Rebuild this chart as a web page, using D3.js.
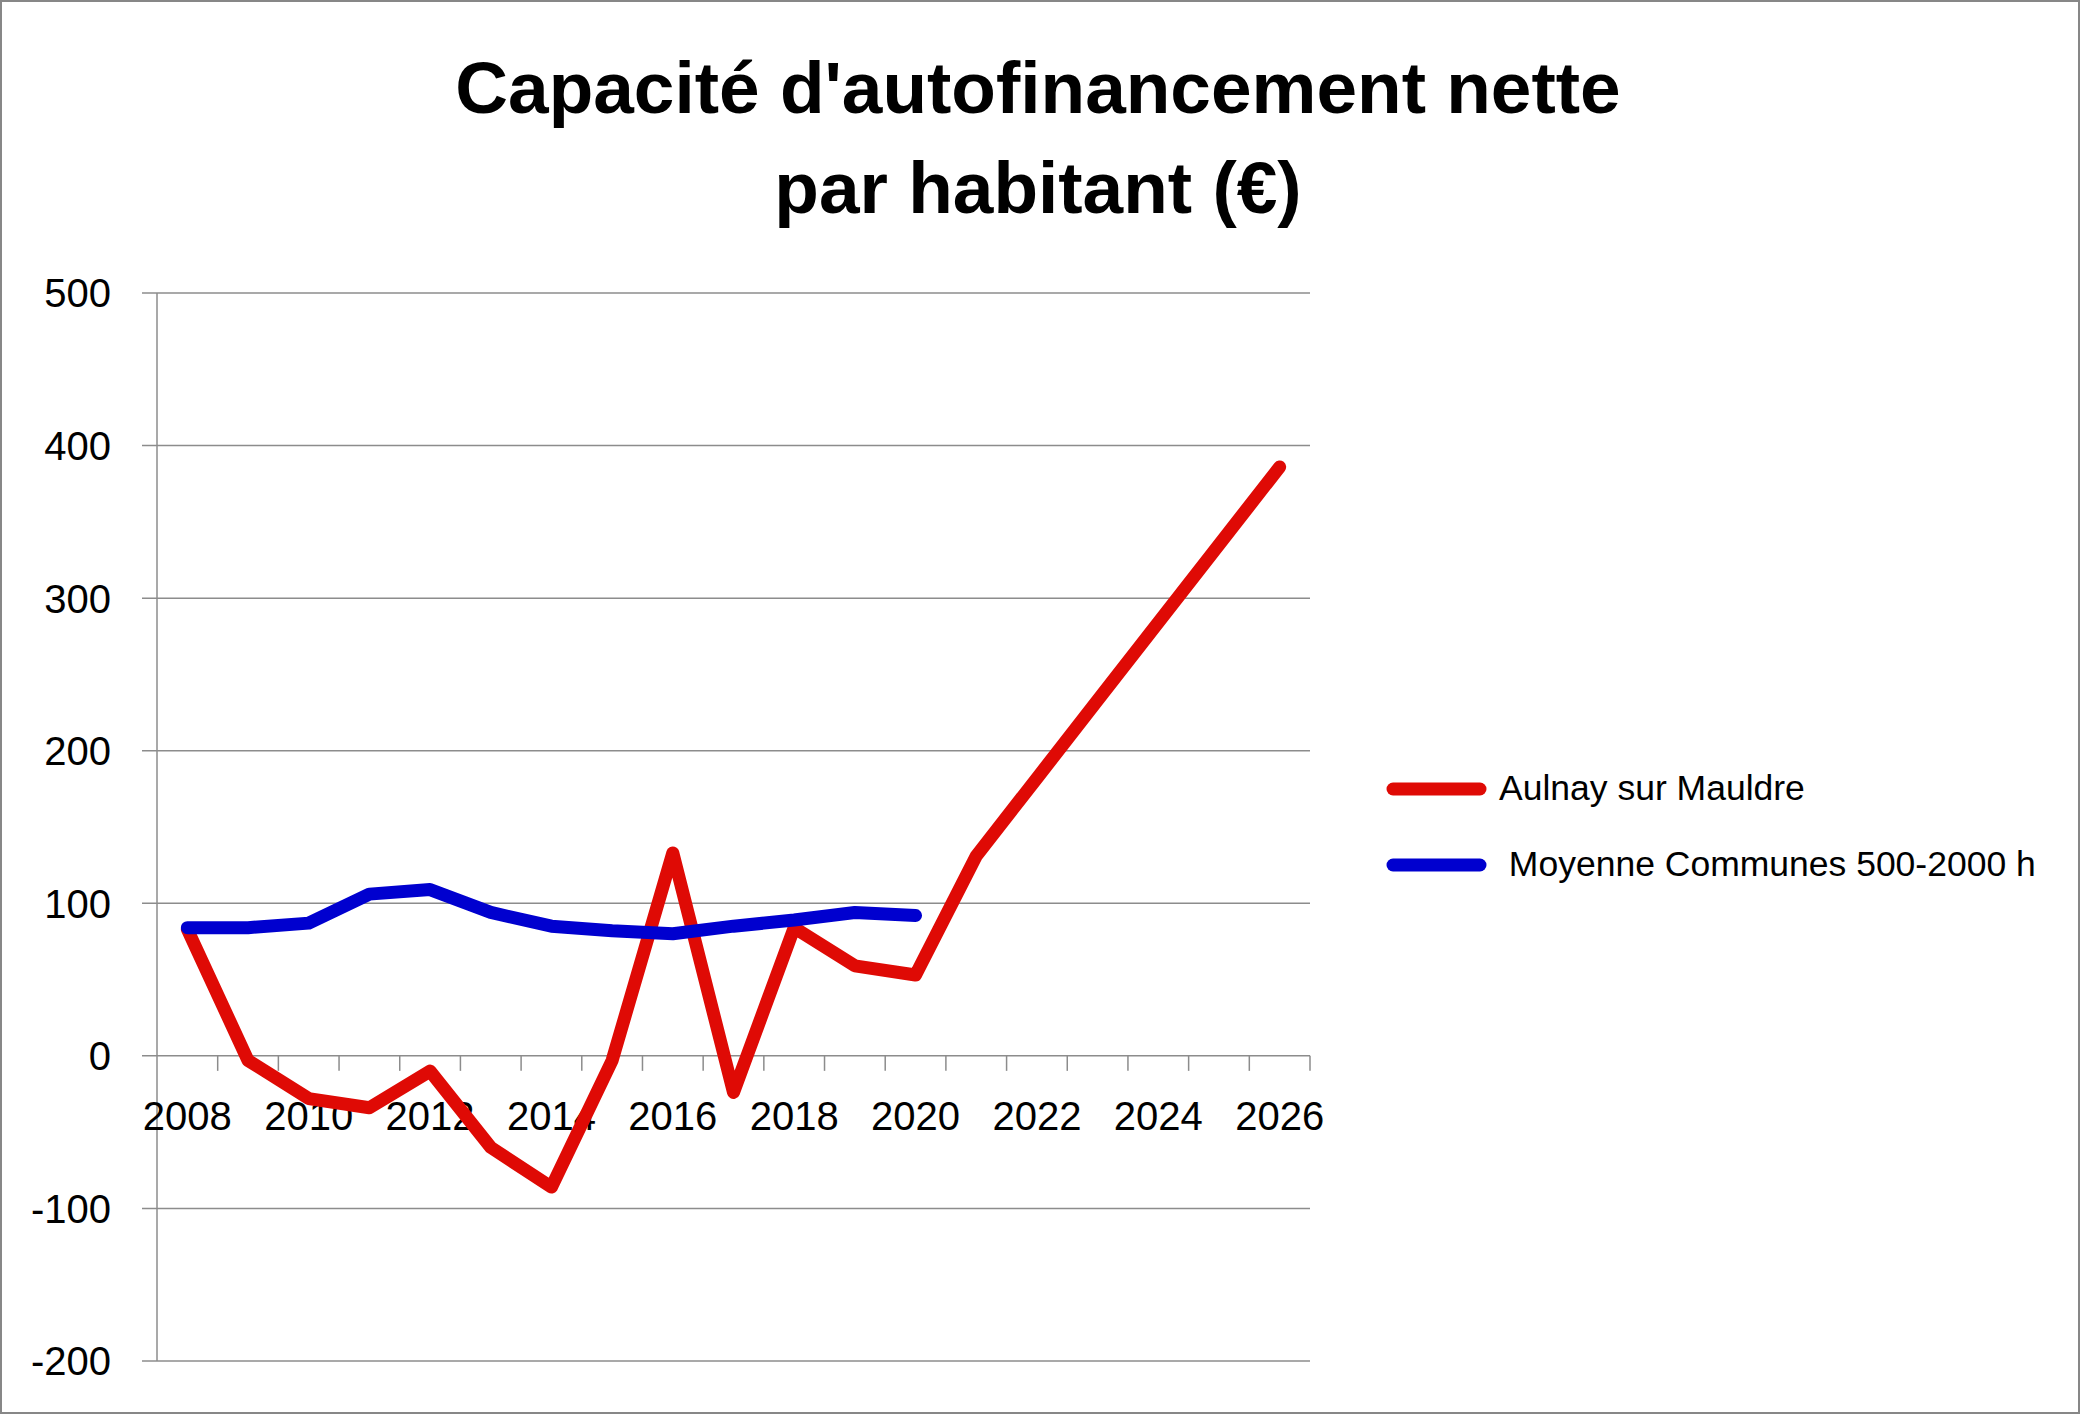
<!DOCTYPE html>
<html>
<head>
<meta charset="utf-8">
<script src="https://cdn.jsdelivr.net/npm/d3@7"></script>
<style>
  html, body { margin: 0; padding: 0; background: #fff; }
  svg { display: block; }
</style>
</head>
<body>
<svg id="chart" width="2085" height="1420"></svg>
<script>
// ---- data ----
const years = [2008,2009,2010,2011,2012,2013,2014,2015,2016,2017,2018,2019,2020,2021,2022,2023,2024,2025,2026];
const aulnay = [83,-3,-28,-34,-10,-60,-86,-3,133,-24,84,59,53,131,182,233,284,335,386];
const moyenne = [84,84,87,106,109,94,85,82,80,85,89,94,92];
const yTicks = [-200,-100,0,100,200,300,400,500];
const xTickLabels = ["2008","2010","2012","2014","2016","2018","2020","2022","2024","2026"];
const seriesNames = ["Aulnay sur Mauldre", " Moyenne Communes 500-2000 h"];
const seriesColors = ["#df0a05", "#0000cf"];
const titleLines = ["Capacité d'autofinancement nette", "par habitant (€)"];

const svg = d3.select("#chart");
const FONT = "'Liberation Sans', Arial, sans-serif";

// border
svg.append("rect").attr("x", 1).attr("y", 1).attr("width", 2078).attr("height", 1412)
  .attr("fill", "#fff").attr("stroke", "#878787").attr("stroke-width", 2);

const x = d3.scaleBand().domain(years).range([157, 1310]).padding(0);
const y = d3.scaleLinear().domain([-200, 500]).range([1361, 293]);
const cx = d => x(d) + x.bandwidth() / 2;

// title
svg.append("g").selectAll("text").data(titleLines).join("text")
  .attr("x", 1038).attr("y", (d, i) => 113 + i * 100)
  .attr("text-anchor", "middle")
  .attr("font-family", FONT).attr("font-weight", "bold").attr("font-size", 73)
  .attr("fill", "#000").text(d => d);

// gridlines
svg.append("g").selectAll("line").data(yTicks).join("line")
  .attr("x1", 142).attr("x2", 1310)
  .attr("y1", d => y(d)).attr("y2", d => y(d))
  .attr("stroke", "#8c8c8c").attr("stroke-width", 1.5);

// y axis line
svg.append("line").attr("x1", 157).attr("x2", 157).attr("y1", y(500)).attr("y2", y(-200))
  .attr("stroke", "#8c8c8c").attr("stroke-width", 1.5);

// x-axis ticks at category boundaries
const bounds = years.map(d => x(d)).concat([x(years[years.length - 1]) + x.bandwidth()]);
svg.append("g").selectAll("line").data(bounds.slice(1)).join("line")
  .attr("x1", d => d).attr("x2", d => d)
  .attr("y1", y(0)).attr("y2", y(0) + 15)
  .attr("stroke", "#8c8c8c").attr("stroke-width", 1.5);

// y labels
svg.append("g").selectAll("text").data(yTicks).join("text")
  .attr("x", 111).attr("y", d => y(d)).attr("dy", "0.36em")
  .attr("text-anchor", "end")
  .attr("font-family", FONT).attr("font-size", 40).attr("fill", "#000")
  .text(d => d);

// x labels
svg.append("g").selectAll("text").data(xTickLabels).join("text")
  .attr("x", d => cx(+d)).attr("y", 1130)
  .attr("text-anchor", "middle")
  .attr("font-family", FONT).attr("font-size", 40).attr("fill", "#000")
  .text(d => d);

// lines
const line = d3.line().x(d => cx(d[0])).y(d => y(d[1]));
const sData = [
  aulnay.map((v, i) => [years[i], v]),
  moyenne.map((v, i) => [years[i], v])
];
svg.append("g").selectAll("path").data(sData).join("path")
  .attr("d", line)
  .attr("fill", "none")
  .attr("stroke", (d, i) => seriesColors[i])
  .attr("stroke-width", 13)
  .attr("stroke-linejoin", "round")
  .attr("stroke-linecap", "round");

// legend
const lg = svg.append("g").selectAll("g").data(seriesNames).join("g")
  .attr("transform", (d, i) => `translate(0, ${789 + i * 76})`);
lg.append("line").attr("x1", 1393).attr("x2", 1480).attr("y1", 0).attr("y2", 0)
  .attr("stroke", (d, i) => seriesColors[i]).attr("stroke-width", 13).attr("stroke-linecap", "round");
lg.append("text").attr("x", 1499).attr("y", 11)
  .attr("font-family", FONT).attr("font-size", 35.5).attr("fill", "#000")
  .attr("xml:space", "preserve")
  .style("white-space", "pre")
  .text(d => d);
</script>
</body>
</html>
